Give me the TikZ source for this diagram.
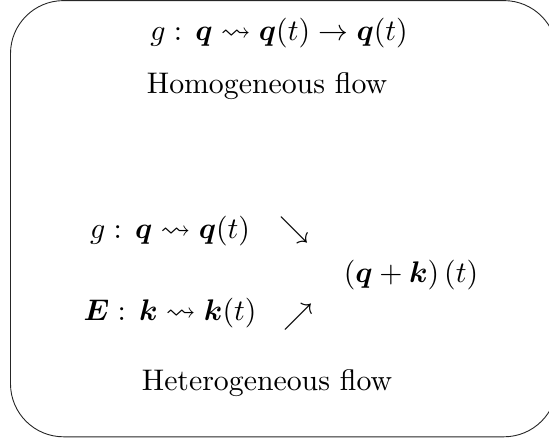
\documentclass[tikz,border=0pt]{standalone}
\usepackage{amsmath,amssymb,bm}
\tikzset{
  txt/.style={anchor=base, inner sep=0pt, scale=2.98, text=black},
  frame/.style={draw=black!85, line width=0.9pt, rounded corners=53pt}
}
\begin{document}
\begin{tikzpicture}[x=1pt,y=-1pt]
\useasboundingbox (0,0) rectangle (549,441);
\clip (0,0) rectangle (549,441);
\draw[frame] (10.5,0.6) rectangle (557,436.8);
\node[txt] (top) at (279,41) {$g:\,\bm{q}\rightsquigarrow\bm{q}(t)\rightarrow\bm{q}(t)$};
\node[txt] (homo) at (267,94) {Homogeneous flow};
\node[txt] (g) at (170,238) {$g:\,\bm{q}\rightsquigarrow\bm{q}(t)$};
\node[txt] (se) at (294,237) {$\searrow$};
\node[txt] (sum) at (411,282) {$\left(\bm{q}+\bm{k}\right)(t)$};
\node[txt] (E) at (170,320) {$\bm{E}:\,\bm{k}\rightsquigarrow\bm{k}(t)$};
\node[txt] (ne) at (298,324) {$\nearrow$};
\node[txt] (hetero) at (267,390) {Heterogeneous flow};
\end{tikzpicture}
\end{document}
